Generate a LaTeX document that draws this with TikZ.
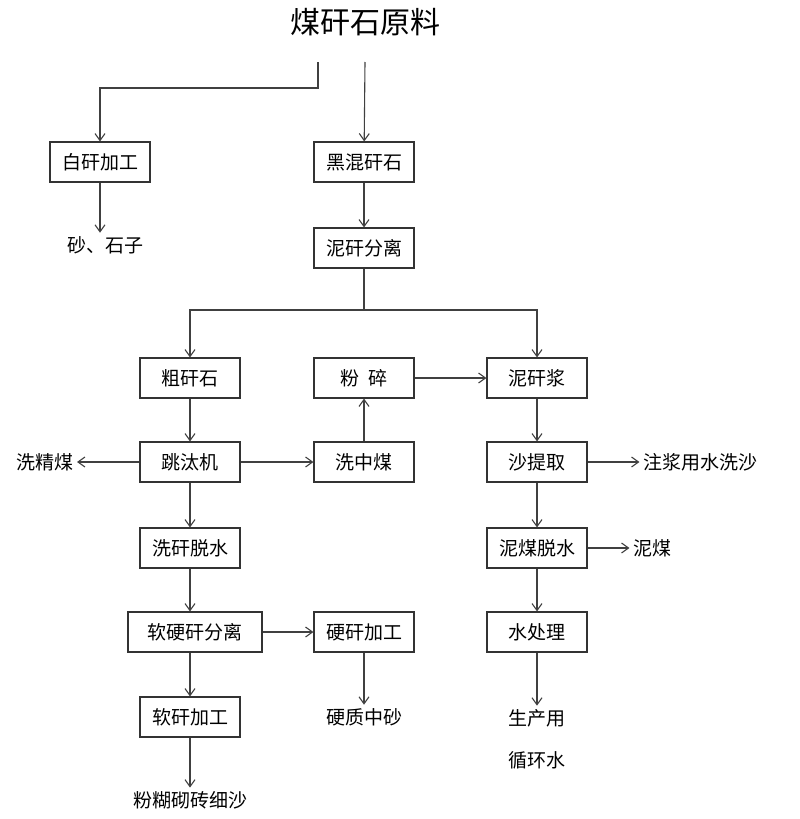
\documentclass[tikz,border=0pt]{standalone}
\usepackage{fontspec}
\setmainfont{Noto Sans CJK SC}
\usetikzlibrary{arrows.meta, positioning}
\tikzset{
  box/.style={draw=black!80, line width=1.1pt, minimum width=100pt, minimum height=40pt, inner sep=2pt, font=\fontsize{19}{22}\selectfont},
  txt/.style={font=\fontsize{19}{22}\selectfont},
  flow/.style={draw=black!75, line width=1.1pt, -{Straight Barb[length=7pt,width=10pt]}}
}
\begin{document}
\begin{tikzpicture}[x=1pt,y=-1pt]
  \useasboundingbox (0,0) rectangle (800,819);

  \node[font=\fontsize{30}{34}\selectfont] (raw) at (365,22) {煤矸石原料};

  \node[box] (bai) at (100,162) {白矸加工};
  \node[box] (hei) at (364,162) {黑混矸石};
  \node[txt] (sha) at (105,245) {砂、石子};
  \node[box] (nifen) at (364,248) {泥矸分离};

  \node[box] (cu) at (190,378) {粗矸石};
  \node[box] (fen) at (364,378) {粉\ \ 碎};
  \node[box] (nijiang) at (537,378) {泥矸浆};

  \node[box] (tiao) at (190,462) {跳汰机};
  \node[box] (xizhong) at (364,462) {洗中煤};
  \node[box] (ti) at (537,462) {沙提取};
  \node[txt] (jing) at (45,462) {洗精煤};
  \node[txt] (zhu) at (700,462) {注浆用水洗沙};

  \node[box] (tuo) at (190,548) {洗矸脱水};
  \node[box] (nimei) at (537,548) {泥煤脱水};
  \node[txt] (mei) at (652,548) {泥煤};

  \node[box, minimum width=134pt] (ruanying) at (195,632) {软硬矸分离};
  \node[box] (ying) at (364,632) {硬矸加工};
  \node[box] (shui) at (537,632) {水处理};

  \node[box] (ruan) at (190,717) {软矸加工};
  \node[txt] (zhongsha) at (364,717) {硬质中砂};
  \node[txt] (sheng) at (537,718) {生产用};
  \node[txt] (xun) at (537,760) {循环水};
  \node[txt] (xisha) at (190,800) {粉糊砌砖细沙};

  \coordinate (a) at (318,62);
  \coordinate (b) at (365,62);
  \coordinate (split) at (364,310);

  \path[flow] (a) -- (318,88) -| (bai.north);
  \path[flow] (b) -- (hei);
  \path[flow] (bai) -- (bai |- sha.north);
  \path[flow] (hei) -- (nifen);
  \draw[draw=black!75, line width=1.1pt] (nifen) -- (split);
  \path[flow] (split) -| (cu);
  \path[flow] (split) -| (nijiang);

  \path[flow] (cu) -- (tiao);
  \path[flow] (tiao) -- (jing);
  \path[flow] (tiao) -- (xizhong);
  \path[flow] (xizhong) -- (fen);
  \path[flow] (fen) -- (nijiang);
  \path[flow] (nijiang) -- (ti);
  \path[flow] (ti) -- (zhu);
  \path[flow] (ti) -- (nimei);
  \path[flow] (nimei) -- (mei);
  \path[flow] (nimei) -- (shui);
  \path[flow] (shui) -- (sheng);
  \path[flow] (tiao) -- (tuo);
  \path[flow] (tuo) -- (tuo |- ruanying.north);
  \path[flow] (ruanying) -- (ying);
  \path[flow] (ying) -- (zhongsha);
  \path[flow] (ruan |- ruanying.south) -- (ruan);
  \path[flow] (ruan) -- (xisha);
\end{tikzpicture}
\end{document}
